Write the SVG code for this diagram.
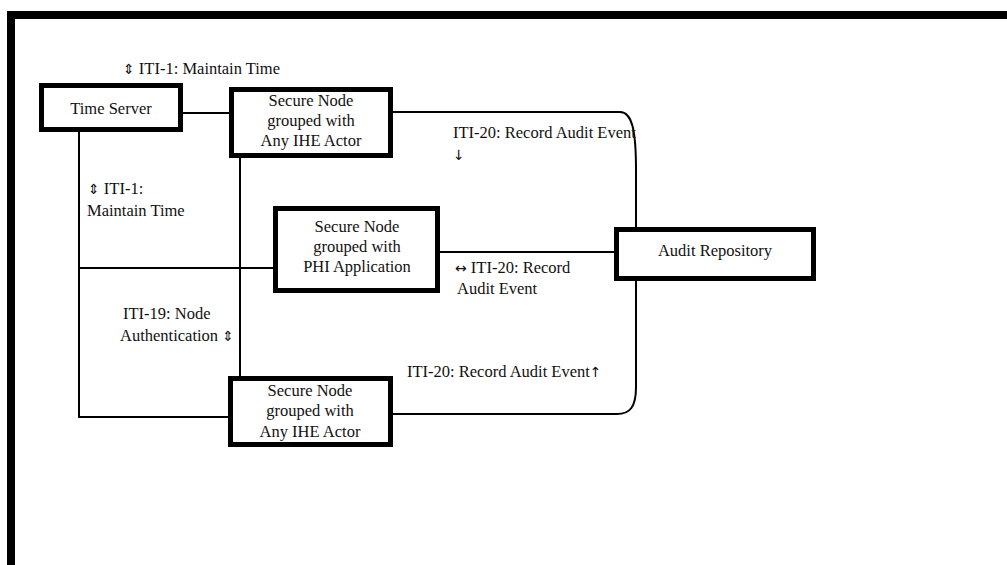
<svg xmlns="http://www.w3.org/2000/svg" width="1007" height="565" viewBox="0 0 1007 565">
<style>
text { font-family: "Liberation Serif", "DejaVu Serif", serif; font-size: 16.5px; fill: #111; }
.ar { font-family: "DejaVu Sans", sans-serif; font-size: 14px; }
.box { fill: #fff; stroke: #000; stroke-width: 5; }
.c { fill: none; stroke: #000; stroke-width: 2; }
.m { text-anchor: middle; }
</style>
<rect width="1007" height="565" fill="#fff"/>
<g id="frame"><path d="M11,565 V15 H1007" fill="none" stroke="#000" stroke-width="8"/></g>
<g id="connectors">
  <path class="c" d="M183,113 H229"/>
  <path class="c" d="M79,132 V417 H228"/>
  <path class="c" d="M79,268 H273"/>
  <path class="c" d="M240,158 V376"/>
  <path class="c" d="M393,112 H620 C632,112 636,130 636,170 V227"/>
  <path class="c" d="M440,252 H614"/>
  <path class="c" d="M393,414 H617 C630,414 636,407 636,387 V281"/>
</g>
<g id="labels">
  <text x="123" y="74"><tspan class="ar">⇕</tspan> ITI-1: Maintain Time</text>
  <text x="453" y="138">ITI-20: Record Audit Event</text>
  <text x="453" y="160" class="ar">↓</text>
  <text x="88" y="194"><tspan class="ar">⇕</tspan> ITI-1:</text>
  <text x="87" y="216">Maintain Time</text>
  <text x="455" y="273"><tspan class="ar">↔</tspan> ITI-20: Record</text>
  <text x="457" y="294">Audit Event</text>
  <text x="123" y="319">ITI-19: Node</text>
  <text x="120" y="341">Authentication <tspan class="ar">⇕</tspan></text>
  <text x="407" y="377">ITI-20: Record Audit Event<tspan class="ar">↑</tspan></text>
</g>
<g id="time-server">
  <rect class="box" x="41.5" y="85.5" width="139" height="44"/>
  <text class="m" x="111" y="114">Time Server</text>
</g>
<g id="secure-node-top">
  <rect class="box" x="231.5" y="89.5" width="159" height="66"/>
  <text class="m" x="311" y="106">Secure Node</text>
  <text class="m" x="311" y="126">grouped with</text>
  <text class="m" x="311" y="146">Any IHE Actor</text>
</g>
<g id="secure-node-phi">
  <rect class="box" x="275.5" y="208.5" width="162" height="82"/>
  <text class="m" x="357" y="232">Secure Node</text>
  <text class="m" x="357" y="252">grouped with</text>
  <text class="m" x="357" y="272">PHI Application</text>
</g>
<g id="audit-repository">
  <rect class="box" x="616.5" y="229.5" width="197" height="49"/>
  <text class="m" x="715" y="256">Audit Repository</text>
</g>
<g id="secure-node-bottom">
  <rect class="box" x="230.5" y="378.5" width="160" height="66"/>
  <text class="m" x="310" y="396">Secure Node</text>
  <text class="m" x="310" y="416">grouped with</text>
  <text class="m" x="310" y="437">Any IHE Actor</text>
</g>
</svg>
